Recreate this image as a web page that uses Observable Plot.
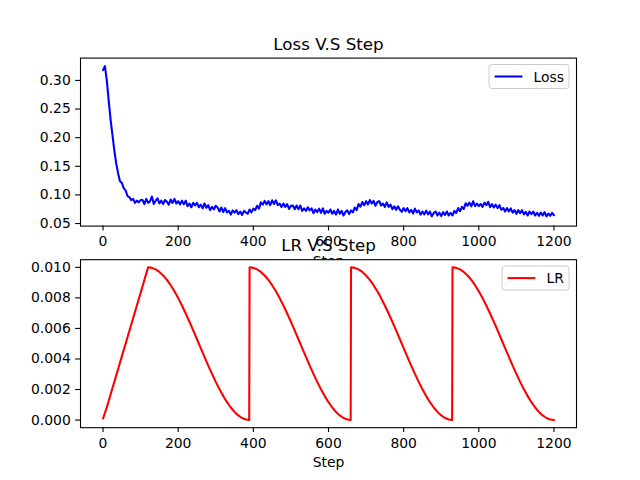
<!DOCTYPE html>
<html><head><meta charset="utf-8">
<script src="https://cdn.jsdelivr.net/npm/d3@7"></script>
<script src="https://cdn.jsdelivr.net/npm/@observablehq/plot@0.6"></script>
<style>
body{margin:0;background:#fff}
#wrap{position:relative;width:640px;height:480px;background:#fff}
#wrap svg{position:absolute;left:0;top:0}
</style>
</head><body><div id="wrap"></div>
<script>
// ---------- data ----------
const lossStepSize = 5; // loss sampled every 5 steps from 0 to 1200
const lossValues = [
 .318,.325,.300,.265,.232,.205,.178,.155,.138,.124,.121,.112,.108,.098,.096,.091,.093,.086,.090,.087,.091,
 .091,.084,.093,.086,.089,.097,.084,.090,.094,.085,.090,.084,.091,.088,.083,.092,.086,.093,.085,.089,
 .0835,.090,.0835,.090,.0805,.085,.0785,.086,.0815,.086,.0785,.083,.0765,.085,.0775,.082,.0735,.079,.0745,.081,
 .078,.071,.078,.070,.077,.0695,.072,.0655,.073,.069,.0735,.0665,.071,.065,.072,.0695,.067,.0745,.0695,.076,
 .0735,.081,.076,.087,.083,.0895,.0835,.089,.082,.0905,.084,.0905,.082,.085,.079,.085,.079,.084,.0755,.081,
 .0815,.075,.0815,.075,.0815,.072,.0765,.072,.0785,.073,.0765,.068,.0745,.070,.076,.0685,.0765,.067,.072,.069,
 .0745,.067,.072,.0655,.0745,.067,.072,.064,.070,.073,.0665,.073,.0695,.078,.0735,.084,.0795,.0875,.082,.089,
 .0835,.091,.085,.0895,.081,.0875,.089,.0815,.085,.079,.087,.079,.083,.075,.080,.074,.080,.074,.0705,.077,
 .0715,.077,.0695,.074,.0675,.076,.0695,.073,.0655,.071,.066,.0725,.066,.071,.0625,.0685,.071,.064,.069,.063,
 .070,.065,.071,.064,.0685,.064,.072,.0685,.077,.0715,.079,.0755,.0855,.081,.0865,.080,.089,.0805,.085,.0805,
 .084,.079,.0865,.082,.088,.0785,.084,.078,.083,.077,.082,.074,.077,.071,.077,.071,.0765,.069,.0735,.067,
 .0735,.068,.0735,.066,.0705,.064,.071,.0665,.071,.064,.0685,.0635,.069,.064,.070,.0625,.0675,.0635,.0685,.0645
];
const lrSteps = [
 0,10,20,30,40,50,60,70,80,90,100,110,120,
 130,140,150,160,170,180,190,200,210,220,230,240,250,260,270,280,290,300,310,320,330,340,350,360,370,380,389,
 390,400,410,420,430,440,450,460,470,480,490,500,510,520,530,540,550,560,570,580,590,600,610,620,630,640,650,659,
 660,670,680,690,700,710,720,730,740,750,760,770,780,790,800,810,820,830,840,850,860,870,880,890,900,910,920,929,
 930,940,950,960,970,980,990,1000,1010,1020,1030,1040,1050,1060,1070,1080,1090,1100,1110,1120,1130,1140,1150,1160,1170,1180,1190,1200
];
const lrValues = [
 0.0001,0.00083,0.00167,0.0025,0.00333,0.00417,0.005,0.00583,0.00667,0.0075,0.00833,0.00917,0.01,
 0.009966,0.009865,0.009698,0.009468,0.009177,0.008830,0.008431,0.007986,0.007500,0.006980,0.006434,0.005868,0.005291,0.004709,0.004132,0.003566,0.003020,0.002500,0.002014,0.001569,0.001170,0.000823,0.000532,0.000302,0.000135,0.000034,0.0,
 0.01,0.009966,0.009865,0.009698,0.009468,0.009177,0.008830,0.008431,0.007986,0.007500,0.006980,0.006434,0.005868,0.005291,0.004709,0.004132,0.003566,0.003020,0.002500,0.002014,0.001569,0.001170,0.000823,0.000532,0.000302,0.000135,0.000034,0.0,
 0.01,0.009966,0.009865,0.009698,0.009468,0.009177,0.008830,0.008431,0.007986,0.007500,0.006980,0.006434,0.005868,0.005291,0.004709,0.004132,0.003566,0.003020,0.002500,0.002014,0.001569,0.001170,0.000823,0.000532,0.000302,0.000135,0.000034,0.0,
 0.01,0.009966,0.009865,0.009698,0.009468,0.009177,0.008830,0.008431,0.007986,0.007500,0.006980,0.006434,0.005868,0.005291,0.004709,0.004132,0.003566,0.003020,0.002500,0.002014,0.001569,0.001170,0.000823,0.000532,0.000302,0.000135,0.000034,0.0
];
const xTicks = [0,200,400,600,800,1000,1200];
const lossTicks = [0.05,0.10,0.15,0.20,0.25,0.30];
const lrTicks = [0,0.002,0.004,0.006,0.008,0.010];
const titles = ["Loss V.S Step","LR V.S Step"];
const xLabel = "Step";
const seriesNames = ["Loss","LR"];

// ---------- build ----------
const lossData = lossValues.map((v,i)=>({step:i*lossStepSize, loss:v}));
const lrData = lrSteps.map((s,i)=>({step:s, lr:lrValues[i]}));

const FONT = "DejaVu Sans";
const fs = 13.9;
const common = {
  width:640, height:480, marginLeft:80, marginRight:64,
  style:{fontFamily:FONT, fontSize:fs+"px", color:"black", background:"transparent", overflow:"visible"},
  x:{domain:[-60,1260]}
};
const axisOpts = {tickSize:4.86, strokeWidth:1.1, label:null};

const topChart = Plot.plot({
  ...common, marginTop:57.6, marginBottom:254.4,
  y:{domain:[0.0455,0.339]},
  marks:[
    Plot.line(lossData,{x:"step",y:"loss",stroke:"#0000ff",strokeWidth:2.08}),
    Plot.frame({stroke:"black",strokeWidth:1.1}),
    Plot.axisX({...axisOpts, ticks:xTicks, tickPadding:5.5, tickFormat:d=>String(d)}),
    Plot.axisY({...axisOpts, ticks:lossTicks, tickPadding:4.9, tickFormat:d3.format(".2f")}),
    Plot.text([titles[0]],{frameAnchor:"top",lineAnchor:"top",dy:-20.2,fontSize:16.7}),
    Plot.text([xLabel],{frameAnchor:"bottom",lineAnchor:"top",dy:29.6})
  ]
});

const bottomChart = Plot.plot({
  ...common, marginTop:259.2, marginBottom:52.8,
  y:{domain:[-0.0005,0.0105]},
  marks:[
    Plot.frame({fill:"white"}),
    Plot.line(lrData,{x:"step",y:"lr",stroke:"#ff0000",strokeWidth:2.08}),
    Plot.frame({stroke:"black",strokeWidth:1.1}),
    Plot.axisX({...axisOpts, ticks:xTicks, tickPadding:5.5, tickFormat:d=>String(d)}),
    Plot.axisY({...axisOpts, ticks:lrTicks, tickPadding:4.9, tickFormat:d3.format(".3f")}),
    Plot.text([titles[1]],{frameAnchor:"top",lineAnchor:"top",dy:-20.2,fontSize:16.7}),
    Plot.text([xLabel],{frameAnchor:"bottom",lineAnchor:"top",dy:29.6})
  ]
});

const wrap = document.getElementById("wrap");
wrap.appendChild(topChart);
wrap.appendChild(bottomChart);

function legend(svg, box, color, label){
  const g = d3.select(svg).append("g");
  g.append("rect").attr("x",box.x).attr("y",box.y).attr("width",box.w).attr("height",box.h)
    .attr("rx",2.8).attr("fill","white").attr("fill-opacity",0.8)
    .attr("stroke","#cccccc").attr("stroke-width",1);
  g.append("line").attr("x1",box.x+5.6).attr("x2",box.x+33.4)
    .attr("y1",box.y+box.h/2).attr("y2",box.y+box.h/2)
    .attr("stroke",color).attr("stroke-width",2.08);
  g.append("text").attr("x",box.x+44.5).attr("y",box.y+box.h/2+5.3)
    .attr("text-anchor","start")
    .attr("font-family",FONT).attr("font-size",fs).attr("fill","black").text(label);
}
legend(topChart, {x:489, y:64.5, w:80, h:24}, "#0000ff", seriesNames[0]);
legend(bottomChart, {x:502, y:266.1, w:67, h:24}, "#ff0000", seriesNames[1]);
</script>
</body></html>
